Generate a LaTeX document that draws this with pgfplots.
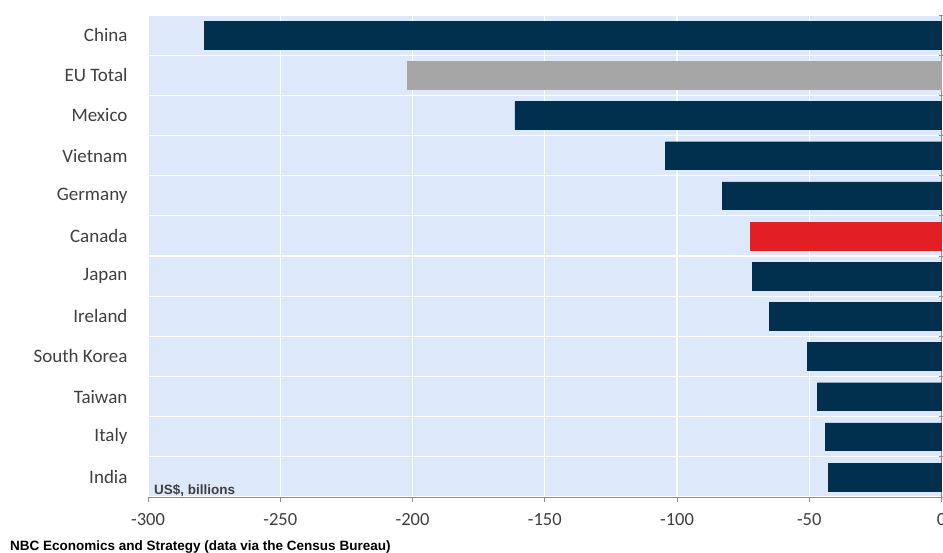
\documentclass[border=0pt]{standalone}
\usepackage{pgfplots}
\pgfplotsset{compat=1.18}
\usepackage{fontspec}
\setmainfont{Carlito}
\newfontfamily\arialf{Liberation Sans}
\definecolor{navy}{HTML}{00304E}
\definecolor{eugrey}{HTML}{A6A6A6}
\definecolor{cared}{HTML}{E31E24}
\definecolor{bgblue}{HTML}{DDE9FA}
\definecolor{lbl}{HTML}{3F3F3F}
\definecolor{axgrey}{HTML}{8C8C8C}
\begin{document}
\begin{tikzpicture}
\begin{axis}[
  at={(148pt,-15pt)}, anchor=north west,
  scale only axis, width=793.5pt, height=482pt,
  xmin=-300, xmax=0, ymin=-0.5, ymax=11.5,
  y dir=reverse,
  xbar, bar width=0.69, bar shift=0pt,
  axis background/.style={fill=bgblue},
  axis x line=bottom, axis y line=right,
  axis line style={-, draw=axgrey, line width=0.9pt},
  xtick={-300,-250,...,0},
  xtick align=outside,
  x tick style={draw=axgrey, line width=0.9pt},
  major tick length=5pt,
  xmajorgrids, major grid style={white, line width=1.2pt},
  ytick={0,...,11},
  yticklabels={China,EU Total,Mexico,Vietnam,Germany,Canada,Japan,Ireland,South Korea,Taiwan,Italy,India},
  y tick style={draw=none},
  minor ytick={-0.5,0.5,...,11.5},
  yminorgrids, minor grid style={white, line width=1.2pt},
  minor y tick style={draw=axgrey, line width=0.9pt},
  minor tick length=5pt,
  ytick align=center,
  yticklabel style={font=\fontsize{19}{22}\selectfont, color=lbl, anchor=east, xshift=-813pt},
  xticklabel style={font=\fontsize{18.5}{20}\selectfont, color=lbl, yshift=-8pt},
  /pgf/number format/assume math mode=true,
  clip=false,
]
\addplot[fill=navy, draw=navy] coordinates {
  (-278.8,0) (-161.3,2) (-104.3,3) (-82.9,4) (-71.4,6) (-65.2,7) (-50.6,8) (-46.9,9) (-44.0,10) (-42.7,11)
};
\addplot[fill=eugrey, draw=eugrey] coordinates {(-202.1,1)};
\addplot[fill=cared, draw=cared] coordinates {(-72.4,5)};
\node[anchor=base west, font=\arialf\bfseries\fontsize{13.5}{15}\selectfont, text=lbl, inner sep=0pt]
  at ([xshift=6pt,yshift=3pt]rel axis cs:0,0) {US\$, billions};
\end{axis}
\node[anchor=base west, font=\arialf\bfseries\fontsize{13.5}{15}\selectfont, text=black, inner sep=0pt]
  at (10pt,-550pt) {NBC Economics and Strategy (data via the Census Bureau)};
\pgfresetboundingbox
\path[use as bounding box] (0pt,0pt) rectangle (943pt,-552pt);
\end{tikzpicture}
\end{document}
